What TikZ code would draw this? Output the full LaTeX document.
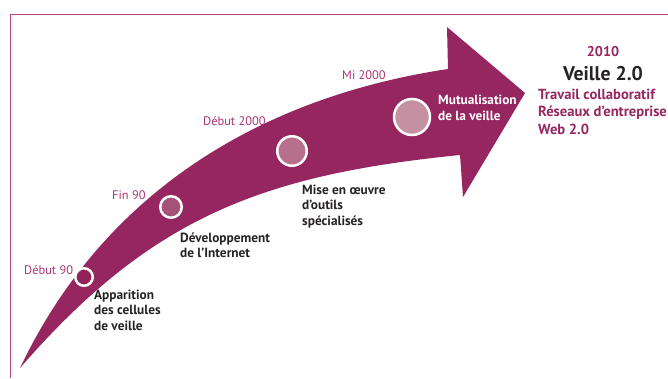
\documentclass[tikz,border=0pt]{standalone}
\usepackage{fontspec}
\setmainfont{PT Sans}
\begin{document}
\definecolor{plum}{HTML}{962660}
\definecolor{rose}{HTML}{AC3474}
\definecolor{framec}{HTML}{B8437E}
\definecolor{ink}{HTML}{262223}
\definecolor{dotA}{HTML}{932459}
\definecolor{dotB}{HTML}{A65278}
\definecolor{dotC}{HTML}{B7708B}
\definecolor{dotD}{HTML}{C591A2}
\tikzset{
  datelabel/.style={inner sep=0pt, anchor=base west, text=rose, font=\fontsize{12.4}{14}\selectfont},
  steplabel/.style={inner sep=0pt, anchor=base west, text=ink, font=\bfseries\fontsize{13.3}{15}\selectfont},
  headlabel/.style={inner sep=0pt, anchor=base west, text=plum, font=\bfseries\fontsize{14.6}{16}\selectfont},
  milestone/.style={circle, draw=white, line width=2.5pt, inner sep=0pt},
}
\begin{tikzpicture}[x=1pt,y=-1pt]
\useasboundingbox (0,0) rectangle (668,378);
\clip (0,0) rectangle (668,378);
% frame
\draw[framec, line width=1.5pt] (10.5,378) -- (10.5,14.5) -- (668,14.5);
% curved arrow
\fill[plum] (20,368) .. controls (110,179) and (278,94.5) .. (448,69)
  -- (447,27) -- (525,93) -- (463,197) -- (460,155)
  .. controls (260,175) and (150,218.5) .. (20,368) -- cycle;
% milestones
\node[milestone, fill=dotA, minimum size=17.5pt] (m1) at (84,277) {};
\node[milestone, fill=dotB, minimum size=21.5pt] (m2) at (171,207) {};
\node[milestone, fill=dotC, minimum size=29.5pt] (m3) at (292,151) {};
\node[milestone, fill=dotD, minimum size=36pt] (m4) at (412,117) {};
% dates
\node[datelabel] (d1) at (24,274) {Début 90};
\node[datelabel] (d2) at (112,199) {Fin 90};
\node[datelabel] (d3) at (203,125) {Début 2000};
\node[datelabel] (d4) at (342,79) {Mi 2000};
% steps
\node[steplabel] (s1a) at (94,299) {Apparition};
\node[steplabel] (s1b) at (94,314.5) {des cellules};
\node[steplabel] (s1c) at (94,330) {de veille};
\node[steplabel] (s2a) at (180,242) {Développement};
\node[steplabel] (s2b) at (180,257.5) {de l’Internet};
\node[steplabel] (s3a) at (302,194) {Mise en œuvre};
\node[steplabel] (s3b) at (302,209.5) {d’outils};
\node[steplabel] (s3c) at (302,225) {spécialisés};
\node[steplabel, text=white] (s4a) at (438,104) {Mutualisation};
\node[steplabel, text=white] (s4b) at (438,120) {de la veille};
% 2010 block
\node[inner sep=0pt, anchor=base, text=plum, font=\bfseries\fontsize{14.2}{16}\selectfont] (y) at (603,56) {2010};
\node[inner sep=0pt, anchor=base, text=ink, font=\bfseries\fontsize{19.8}{22}\selectfont] (v) at (603,80) {Veille 2.0};
\node[headlabel] (h1) at (538,99) {Travail collaboratif};
\node[headlabel] (h2) at (538,116.5) {Réseaux d’entreprise};
\node[headlabel] (h3) at (538,134) {Web 2.0};
\end{tikzpicture}
\end{document}
